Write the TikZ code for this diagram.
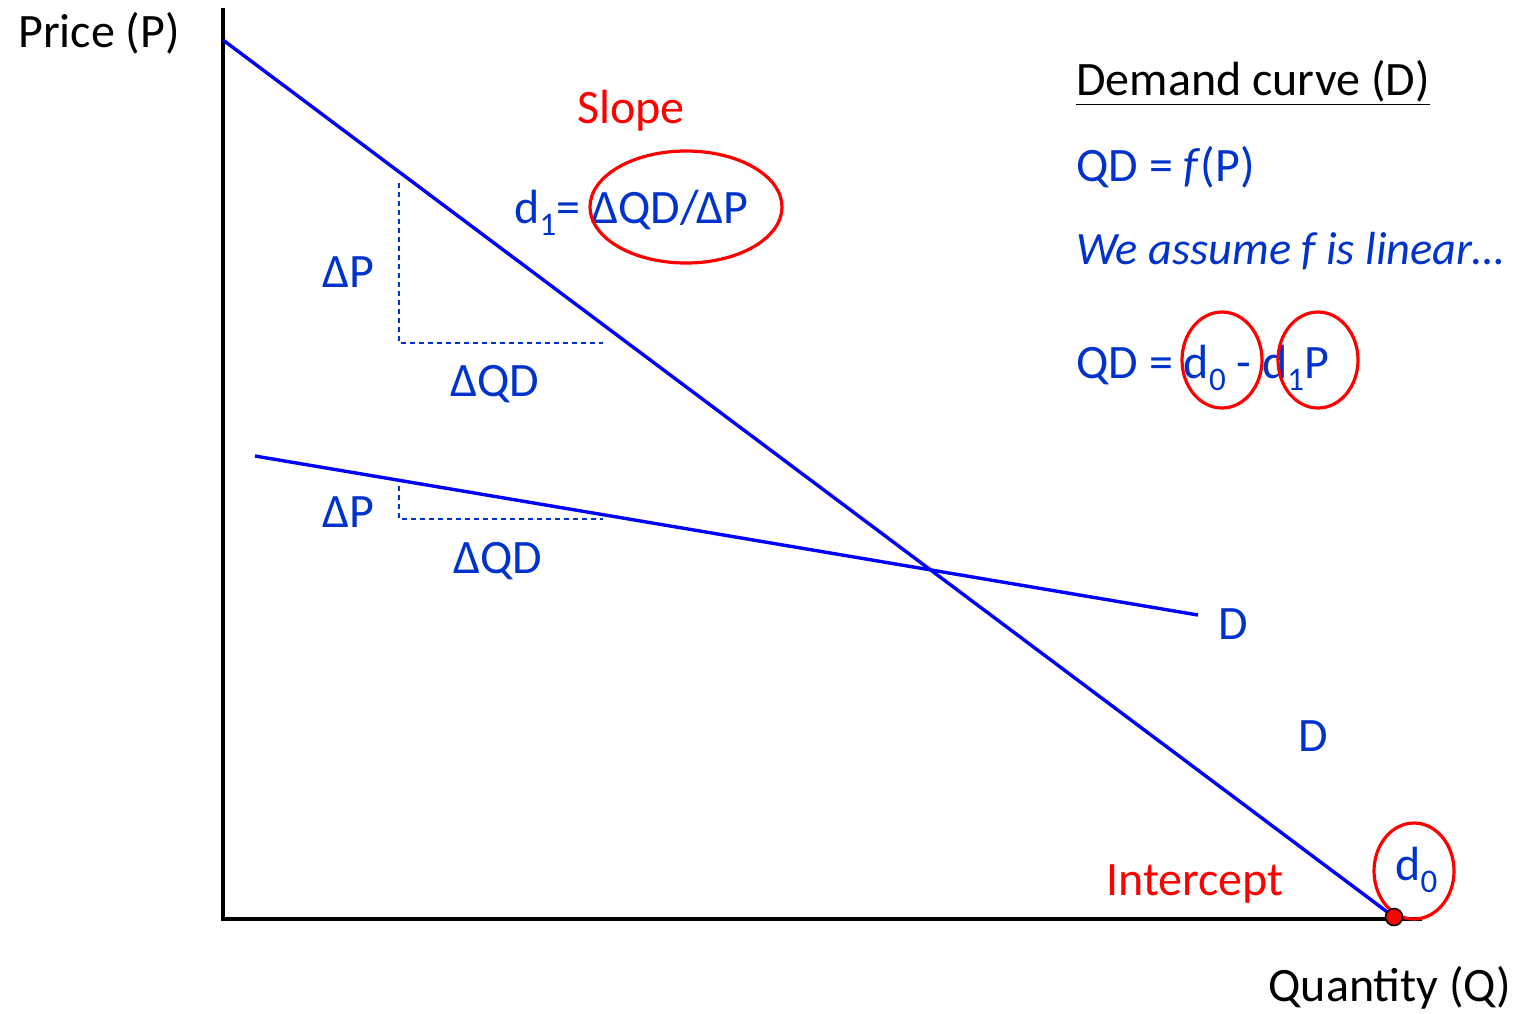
\documentclass[tikz,border=0pt]{standalone}
\usepackage{fontspec}
\setmainfont{Carlito}
\usetikzlibrary{shapes.geometric}
\definecolor{txtblue}{RGB}{0,51,204}
\definecolor{lineblue}{RGB}{0,0,255}
\definecolor{markred}{RGB}{255,0,0}
% lowered subscript digit
\newcommand\lowsub[1]{\raisebox{-0.25em}{\fontsize{16.5}{16.5}\selectfont #1}}
\begin{document}
\begin{tikzpicture}[x=0.5pt,y=-0.5pt,
  lbl/.style={inner sep=0pt,font=\fontsize{24}{28}\selectfont},
  bluelbl/.style={lbl,text=txtblue},
  redlbl/.style={lbl,text=markred},
  axis/.style={line width=1.7pt,black},
  demand/.style={line width=1.7pt,lineblue},
  helper/.style={line width=0.8pt,txtblue,dash pattern=on 2.5pt off 2pt},
  ring/.style={line width=1.6pt,markred}]
\useasboundingbox (0,0) rectangle (1514,1013);

% axes
\coordinate (origin) at (223,919);
\coordinate (ytop) at (223,8);
\coordinate (xend) at (1422,919);
\draw[axis] (ytop) -- (origin) -- (xend);
\node[lbl] (ylab) at (99,33) {Price (P)};
\node[lbl] (xlab) at (1390,988) {Quantity (Q)};

% demand curves
\coordinate (steepA) at (223,40);
\coordinate (steepB) at (1394,917);
\coordinate (flatA) at (255,456);
\coordinate (flatB) at (1198,615);
\draw[demand] (steepA) -- (steepB);
\draw[demand] (flatA) -- (flatB);
\node[bluelbl] (dflat) at (1233,624) {D};
\node[bluelbl] (dsteep) at (1313,736) {D};

% slope triangles
\coordinate (t1top) at (399,183);
\coordinate (t1corner) at (399,343);
\coordinate (t1end) at (603,343);
\draw[helper] (t1top) -- (t1corner) -- (t1end);
\node[bluelbl] (dp1) at (348,272) {ΔP};
\node[bluelbl] (dq1) at (495,384) {ΔQD};

\coordinate (t2top) at (399,486);
\coordinate (t2corner) at (399,519);
\coordinate (t2end) at (603,519);
\draw[helper] (t2top) -- (t2corner) -- (t2end);
\node[bluelbl] (dp2) at (348,512) {ΔP};
\node[bluelbl] (dq2) at (498,561) {ΔQD};

% slope formula
\node[bluelbl,anchor=base west] (slopeeq) at (514,223) {d\lowsub{1}= ΔQD/ΔP};
\node[redlbl] (slopelab) at (631,111) {Slope};
\draw[ring] (686,207) ellipse [x radius=96, y radius=56];

% right-hand text block
\node[bluelbl,anchor=base west,text=black] (title) at (1076,95) {\underline{Demand curve (D)}};
\node[bluelbl,anchor=base west] (fn) at (1076,181) {QD = \textit{f}(P)};
\node[bluelbl,anchor=base west,font=\fontsize{23.2}{27}\selectfont] (assume) at (1076,264) {\textit{We assume f is linear…}};
\node[bluelbl,anchor=base west] (lin) at (1076,378) {QD = d\lowsub{0} - d\lowsub{1}P};
\draw[ring] (1222,360) ellipse [x radius=40, y radius=48];
\draw[ring] (1318,360) ellipse [x radius=40, y radius=48];

% intercept
\node[bluelbl,anchor=base west] (dzero) at (1395,880) {d\lowsub{0}};
\draw[ring] (1414,871) ellipse [x radius=40, y radius=48];
\node[redlbl] (intlab) at (1195,884) {Intercept};
\fill[markred,draw=black,line width=0.8pt] (steepB) circle (8.5);
\end{tikzpicture}
\end{document}
